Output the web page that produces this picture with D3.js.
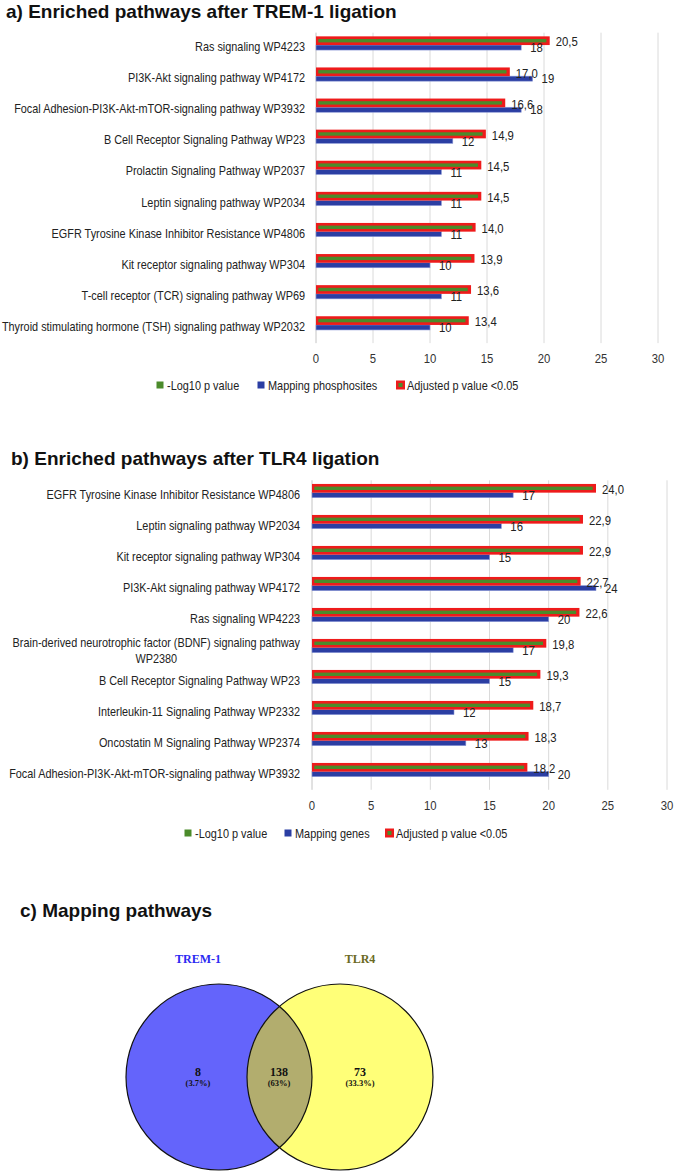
<!DOCTYPE html>
<html>
<head>
<meta charset="utf-8">
<script src="https://cdn.jsdelivr.net/npm/d3@7"></script>
<style>
  body { margin: 0; background: #fff; }
  svg { display: block; }
</style>
</head>
<body>
<script>
let w = 676;
let h = 1176;

// panel a: TREM-1
let catsA = [
  'Ras signaling WP4223',
  'PI3K-Akt signaling pathway WP4172',
  'Focal Adhesion-PI3K-Akt-mTOR-signaling pathway WP3932',
  'B Cell Receptor Signaling Pathway WP23',
  'Prolactin Signaling Pathway WP2037',
  'Leptin signaling pathway WP2034',
  'EGFR Tyrosine Kinase Inhibitor Resistance WP4806',
  'Kit receptor signaling pathway WP304',
  'T-cell receptor (TCR) signaling pathway WP69',
  'Thyroid stimulating hormone (TSH) signaling pathway WP2032'
];
let logpA = [20.5, 17.0, 16.6, 14.9, 14.5, 14.5, 14.0, 13.9, 13.6, 13.4];
let mapA = [18, 19, 18, 12, 11, 11, 11, 10, 11, 10];

// panel b: TLR4
let catsB = [
  'EGFR Tyrosine Kinase Inhibitor Resistance WP4806',
  'Leptin signaling pathway WP2034',
  'Kit receptor signaling pathway WP304',
  'PI3K-Akt signaling pathway WP4172',
  'Ras signaling WP4223',
  'Brain-derived neurotrophic factor (BDNF) signaling pathway WP2380',
  'B Cell Receptor Signaling Pathway WP23',
  'Interleukin-11 Signaling Pathway WP2332',
  'Oncostatin M Signaling Pathway WP2374',
  'Focal Adhesion-PI3K-Akt-mTOR-signaling pathway WP3932'
];
let logpB = [24.0, 22.9, 22.9, 22.7, 22.6, 19.8, 19.3, 18.7, 18.3, 18.2];
let mapB = [17, 16, 15, 24, 20, 17, 15, 12, 13, 20];

let xTicks = [0, 5, 10, 15, 20, 25, 30];
let legendA = ['-Log10 p value', 'Mapping phosphosites', 'Adjusted p value <0.05'];
let legendB = ['-Log10 p value', 'Mapping genes', 'Adjusted p value <0.05'];

// panel c: venn
let vennSets = ['TREM-1', 'TLR4'];
let vennRegions = ['TREM-1 only', 'both', 'TLR4 only'];
let vennCounts = [8, 138, 73];
let vennPcts = ['(3.7%)', '(63%)', '(33.3%)'];

let sans = '"Liberation Sans", Arial, sans-serif';
let serif = '"Liberation Serif", "Times New Roman", serif';
let red = '#ee1b1b';
let green = '#4b8b2b';
let blue = '#2b3ea3';

let fmt = (v) => { return d3.format('.1f')(v).replace('.', ','); };

let svg = d3.select('body')
  .append('svg')
  .attr('width', w)
  .attr('height', h);

// condensed text helper (squeezed horizontally to look like a narrow face)
let ntext = (g, txt, x, y, size, anchor, sx) => {
  sx = sx || 0.84;
  return g.append('text')
    .text(txt)
    .attr('transform', 'translate(' + x + ',' + y + ') scale(' + sx + ',1)')
    .attr('dy', '0.35em')
    .attr('text-anchor', anchor || 'start')
    .attr('font-family', sans)
    .attr('font-size', size)
    .attr('fill', '#222');
};

let title = (txt, x, y) => {
  svg.append('text')
    .text(txt)
    .attr('x', x)
    .attr('y', y)
    .attr('font-family', sans)
    .attr('font-weight', 'bold')
    .attr('font-size', '19px')
    .attr('fill', '#111');
};

let drawBars = (cfg) => {
  let g = svg.append('g');
  let xScale = d3.scaleLinear().domain([0, 30]).range([cfg.x0, cfg.x1]);
  let yScale = d3.scaleBand().domain(cfg.cats).range(cfg.yr).padding(0);
  let c = (i) => { return yScale(cfg.cats[i]) + yScale.bandwidth() / 2; };
  let gTop = cfg.yr[0] + 5;
  let gBot = cfg.yr[1] + 4.5;
  let lsx = 0.87;

  // gridlines
  g.selectAll('line.grid')
    .data(xTicks)
    .enter()
    .append('line')
    .attr('x1', (d) => { return xScale(d); })
    .attr('x2', (d) => { return xScale(d); })
    .attr('y1', gTop)
    .attr('y2', gBot)
    .attr('stroke', (d) => { return d === 0 ? '#c4c4c4' : '#dadada'; })
    .attr('stroke-width', 1);

  // tick labels
  xTicks.forEach((d) => {
    ntext(g, d, xScale(d), cfg.tickY, '13.5px', 'middle').attr('fill', '#333');
  });

  // category labels (wrap if too wide)
  cfg.cats.forEach((name, i) => {
    let t = ntext(g, name, cfg.labelX, c(i) + 3.5, '12.5px', 'end', lsx);
    if (t.node().getComputedTextLength() * lsx > cfg.maxLabel) {
      let words = name.split(' ');
      let last = words.pop();
      t.text(words.join(' '))
        .attr('transform', 'translate(' + cfg.labelX + ',' + (c(i) - 3) + ') scale(' + lsx + ',1)');
      let lw = t.node().getComputedTextLength() * lsx;
      ntext(g, last, cfg.labelX - lw / 2, c(i) + 12.5, '12.5px', 'middle', lsx);
    }
  });

  // blue bars
  g.selectAll('rect.map')
    .data(cfg.map)
    .enter()
    .append('rect')
    .attr('x', xScale(0))
    .attr('y', (d, i) => { return c(i) + 1.85; })
    .attr('width', (d) => { return xScale(d) - xScale(0); })
    .attr('height', 5)
    .attr('fill', blue)
    .attr('stroke', '#8a97d6')
    .attr('stroke-width', 0.6);

  // red (adjusted) outer bars
  g.selectAll('rect.adj')
    .data(cfg.logp)
    .enter()
    .append('rect')
    .attr('x', xScale(0))
    .attr('y', (d, i) => { return c(i) - 6.85; })
    .attr('width', (d) => { return xScale(d) - xScale(0); })
    .attr('height', 8.7)
    .attr('fill', red);

  // green inner bars
  g.selectAll('rect.logp')
    .data(cfg.logp)
    .enter()
    .append('rect')
    .attr('x', xScale(0) + 2.3)
    .attr('y', (d, i) => { return c(i) - 4.2; })
    .attr('width', (d) => { return xScale(d) - xScale(0) - 5.6; })
    .attr('height', 3.4)
    .attr('fill', green);

  // value labels
  cfg.map.forEach((d, i) => {
    ntext(g, d, xScale(d) + 9, c(i) + 4.3, '13.5px');
  });
  cfg.logp.forEach((d, i) => {
    ntext(g, fmt(d), xScale(d) + 6, c(i) - 1.5, '13.5px');
  });

  // legend
  cfg.legend.forEach((name, i) => {
    let lx = cfg.legendX[i];
    if (i === 2) {
      g.append('rect').attr('x', lx - 4).attr('y', cfg.legendY - 4.5)
        .attr('width', 9).attr('height', 9).attr('fill', red);
      g.append('rect').attr('x', lx - 1.5).attr('y', cfg.legendY - 2)
        .attr('width', 4).attr('height', 4).attr('fill', green);
    } else {
      g.append('rect').attr('x', lx - 3.5).attr('y', cfg.legendY - 3.5)
        .attr('width', 7).attr('height', 7).attr('fill', i === 0 ? green : blue);
    }
    ntext(g, name, lx + 7, cfg.legendY, '13px');
  });
};

title('a) Enriched pathways after TREM-1 ligation', 6, 18);
drawBars({
  cats: catsA, logp: logpA, map: mapA,
  x0: 316, x1: 658, yr: [27.65, 338.65],
  labelX: 305, maxLabel: 320, tickY: 358,
  legend: legendA, legendX: [160, 261, 400], legendY: 385
});

title('b) Enriched pathways after TLR4 ligation', 11, 465);
drawBars({
  cats: catsB, logp: logpB, map: mapB,
  x0: 312, x1: 667, yr: [475.3, 785.3],
  labelX: 300, maxLabel: 305, tickY: 805,
  legend: legendB, legendX: [188, 288, 389], legendY: 833
});

// panel c: venn
title('c) Mapping pathways', 20, 917);

let vx = d3.scalePoint().domain(vennSets).range([219, 340]);
let rx = d3.scalePoint().domain(vennRegions).range([198, 360]);
let vy = 1077;
let r = 93;
let setFill = ['#6464fb', '#ffff78'];
let setText = ['#2a2af2', '#6b6a22'];

let defs = svg.append('defs');
defs.append('clipPath').attr('id', 'clipL')
  .append('circle').attr('cx', vx(vennSets[0])).attr('cy', vy).attr('r', r);

svg.selectAll('circle.set')
  .data(vennSets)
  .enter()
  .append('circle')
  .attr('cx', (d) => { return vx(d); })
  .attr('cy', vy)
  .attr('r', r)
  .attr('fill', (d, i) => { return setFill[i]; });

svg.append('circle')
  .attr('cx', vx(vennSets[1]))
  .attr('cy', vy)
  .attr('r', r)
  .attr('clip-path', 'url(#clipL)')
  .attr('fill', '#b2ad6e');

svg.selectAll('circle.outline')
  .data(vennSets)
  .enter()
  .append('circle')
  .attr('cx', (d) => { return vx(d); })
  .attr('cy', vy)
  .attr('r', r)
  .attr('fill', 'none')
  .attr('stroke', '#111')
  .attr('stroke-width', 1.2);

svg.selectAll('text.setname')
  .data(vennSets)
  .enter()
  .append('text')
  .text((d) => { return d; })
  .attr('x', (d, i) => { return rx(vennRegions[i * 2]); })
  .attr('y', 963)
  .attr('text-anchor', 'middle')
  .attr('font-family', serif)
  .attr('font-weight', 'bold')
  .attr('font-size', '12px')
  .attr('fill', (d, i) => { return setText[i]; });

svg.selectAll('text.count')
  .data(vennCounts)
  .enter()
  .append('text')
  .text((d) => { return d; })
  .attr('x', (d, i) => { return rx(vennRegions[i]); })
  .attr('y', 1075.5)
  .attr('text-anchor', 'middle')
  .attr('font-family', serif)
  .attr('font-weight', 'bold')
  .attr('font-size', '12px')
  .attr('fill', '#111');

svg.selectAll('text.pct')
  .data(vennPcts)
  .enter()
  .append('text')
  .text((d) => { return d; })
  .attr('x', (d, i) => { return rx(vennRegions[i]); })
  .attr('y', 1085.5)
  .attr('text-anchor', 'middle')
  .attr('font-family', serif)
  .attr('font-weight', 'bold')
  .attr('font-size', '8.5px')
  .attr('fill', '#111');
</script>
</body>
</html>
